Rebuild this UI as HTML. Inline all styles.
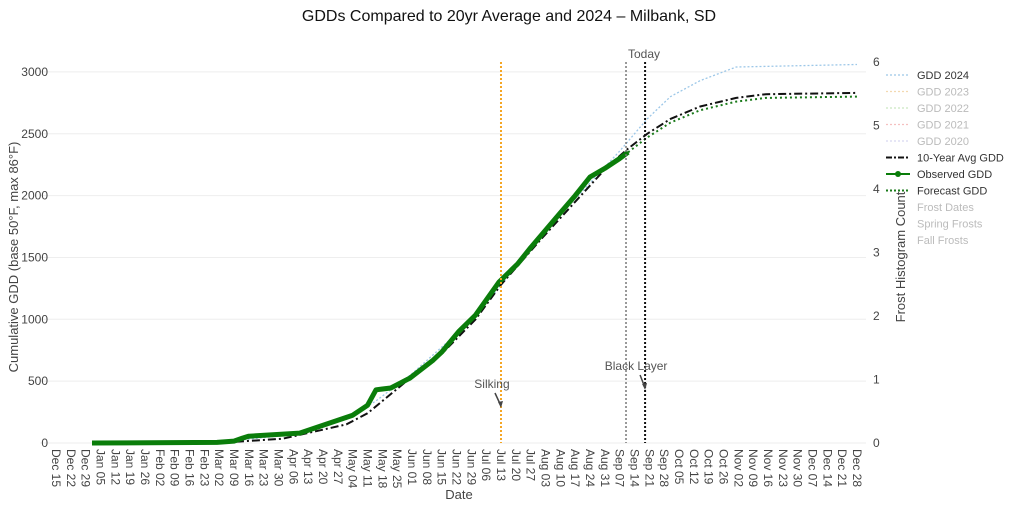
<!DOCTYPE html>
<html><head><meta charset="utf-8"><style>
body{margin:0;background:#fff;font-family:"Liberation Sans",Arial,sans-serif}
svg text{font-family:"Liberation Sans",Arial,sans-serif}
</style></head><body>
<svg id="c" width="1018" height="508" xmlns="http://www.w3.org/2000/svg">
<text x="509" y="21" text-anchor="middle" font-size="16" fill="#111">GDDs Compared to 20yr Average and 2024 – Milbank, SD</text>
<g id="grid"></g><g id="axes"></g><g id="series"></g><g id="ann"></g><g id="legend"></g>
<text transform="translate(18,257) rotate(-90)" text-anchor="middle" font-size="13" fill="#444">Cumulative GDD (base 50°F, max 86°F)</text>
<text transform="translate(905,257) rotate(-90)" text-anchor="middle" font-size="13" fill="#444">Frost Histogram Count</text>
<text x="459" y="499" text-anchor="middle" font-size="13" fill="#444">Date</text>
</svg>
<script>
const yTicks=[0,500,1000,1500,2000,2500,3000];
const y2Ticks=[0,1,2,3,4,5,6];
const obsDates=["01-01","03-01","03-09","03-13","03-16","04-09","05-04","05-11","05-15","05-22","05-31","06-11","06-15","06-23","07-01","07-12","07-21","07-27","08-03","08-10","08-17","08-24","08-31","09-07","09-11"];
const obsVals=[0,5,15,40,55,80,225,305,430,445,525,670,735,900,1035,1300,1450,1580,1720,1860,2000,2150,2220,2300,2350];
const avgDates=["01-01","03-01","04-01","05-01","05-11","05-28","06-15","07-01","07-13","08-01","09-01","09-11","09-20","10-01","10-15","11-01","11-15","12-28"];
const avgVals=[0,0,35,150,240,480,720,1000,1280,1650,2230,2380,2500,2620,2720,2790,2820,2830];
const fcDates=["09-11","09-20","10-01","10-15","11-01","11-15","12-28"];
const fcVals=[2350,2470,2590,2690,2760,2790,2800];
const g24Dates=["01-01","03-01","04-01","05-01","05-15","06-01","07-01","08-01","09-07","09-20","10-01","10-15","11-01","12-28"];
const g24Vals=[0,5,60,190,340,560,1020,1680,2360,2620,2800,2930,3040,3060];
const silkDate="07-13", todayDate="09-10", blackDate="09-19";
const NS="http://www.w3.org/2000/svg";
const x0=56,pxDay=2.119,y0=443,pxU=0.1237,pxU2=63.5;
const mdays=[31,28,31,30,31,30,31,31,30,31,30,31];
function dayIdx(s){const [m,d]=s.split("-").map(Number);let n=17;for(let i=0;i<m-1;i++)n+=mdays[i];return n+d-1;}
const X=s=>x0+dayIdx(s)*pxDay, Y=v=>y0-v*pxU, Y2=v=>y0-v*pxU2;
function el(t,a,p){const e=document.createElementNS(NS,t);for(const k in a)e.setAttribute(k,a[k]);document.getElementById(p).appendChild(e);return e;}
yTicks.forEach(v=>{
 const l=el("line",{x1:40,x2:866,y1:Y(v),y2:Y(v),stroke:"#eee"},"grid");
 
 
 const t=el("text",{x:48,y:Y(v)+4,"text-anchor":"end","font-size":12,fill:"#444"},"axes");t.textContent=v;
 
 
});
y2Ticks.forEach(v=>{
 const t=el("text",{x:873,y:Y2(v)+4,"font-size":12,fill:"#444"},"axes");t.textContent=v;
 
 
});
const mon=["Jan","Feb","Mar","Apr","May","Jun","Jul","Aug","Sep","Oct","Nov","Dec"];
for(let w=0;w<55;w++){
 const dt=new Date(Date.UTC(2024,11,15+7*w));
 const lab=mon[dt.getUTCMonth()]+" "+String(dt.getUTCDate()).padStart(2,"0");
 const x=x0+w*7*pxDay;
 const t=el("text",{transform:`translate(${x-4},449) rotate(90)`,"font-size":12,fill:"#444"},"axes");t.textContent=lab;
 
 
}
function line(ds,vs,attrs,name){
 const d=ds.map((s,i)=>(i?"L":"M")+X(s).toFixed(1)+","+Y(vs[i]).toFixed(1)).join("");
 const p=el("path",Object.assign({d,fill:"none"},attrs),"series");
 
 
}
line(g24Dates,g24Vals,{stroke:"#9cc7e8","stroke-width":1.3,"stroke-dasharray":"2,2"},"gdd-2024-line");
line(avgDates,avgVals,{stroke:"#111","stroke-width":2,"stroke-dasharray":"8,3,2,3"},"avg-gdd-line");
line(fcDates,fcVals,{stroke:"#1a7a1a","stroke-width":2,"stroke-dasharray":"2,3"},"forecast-gdd-line");
line(obsDates,obsVals,{stroke:"#0a7d0a","stroke-width":5,"stroke-linejoin":"round"},"observed-gdd-line");
function vline(s,c,w,da,name){const l=el("line",{x1:X(s),x2:X(s),y1:62,y2:443,stroke:c,"stroke-width":w,"stroke-dasharray":da},"ann");
 
 }
vline(silkDate,"#f5a623",2,"2,2","silking-line");
vline(todayDate,"#777",1.5,"2,2","today-line");
vline(blackDate,"#111",2,"2,2","black-layer-line");
function txt(x,y,s,name,anchor){const t=el("text",{x,y,"font-size":12,fill:"#555","text-anchor":anchor||"middle"},"ann");t.textContent=s;
 
 }
txt(X(todayDate)+18,58,"Today","today-label");
txt(X(silkDate)-9,388,"Silking","silking-label");
txt(X(blackDate)-9,370,"Black Layer","black-layer-label");
el("path",{d:`M${X(silkDate)-6},393 L${X(silkDate)},406`,stroke:"#444","stroke-width":1.5},"ann");
el("path",{d:`M${X(silkDate)-3},402 L${X(silkDate)},408 L${X(silkDate)+2},401Z`,fill:"#444"},"ann");
el("path",{d:`M${X(blackDate)-5},375 L${X(blackDate)},388`,stroke:"#444","stroke-width":1.5},"ann");
el("path",{d:`M${X(blackDate)-3},384 L${X(blackDate)},390 L${X(blackDate)+2},383Z`,fill:"#444"},"ann");
const legNames=["GDD 2024","GDD 2023","GDD 2022","GDD 2021","GDD 2020","10-Year Avg GDD","Observed GDD","Forecast GDD","Frost Dates","Spring Frosts","Fall Frosts"];
const legCol=["#9cc7e8","#f3d9b0","#c9e6c0","#f5c0c0","#d8d8f0","#111","#0a7d0a","#1a7a1a",null,null,null];
legNames.forEach((n,i)=>{
 const y=75+i*16.5;const dim=(i>=1&&i<=4)||i>=8;
 const g=el("g",{},"legend");
 
 
 if(legCol[i]){const da=i==5?"6,2,2,2":i==6?"none":"2,2";
  const l=document.createElementNS(NS,"line");[["x1",886],["x2",910],["y1",y],["y2",y],["stroke",legCol[i]],["stroke-width",i>=5?2:1.2],["stroke-dasharray",da]].forEach(a=>l.setAttribute(a[0],a[1]));g.appendChild(l);
  if(i==6){const c=document.createElementNS(NS,"circle");c.setAttribute("cx",898);c.setAttribute("cy",y);c.setAttribute("r",3);c.setAttribute("fill",legCol[i]);g.appendChild(c);}
 }
 const t=document.createElementNS(NS,"text");t.setAttribute("x",917);t.setAttribute("y",y+4);t.setAttribute("font-size",11);t.setAttribute("fill",dim?"#bbb":"#333");t.textContent=n;g.appendChild(t);
});
</script>
</body></html>
